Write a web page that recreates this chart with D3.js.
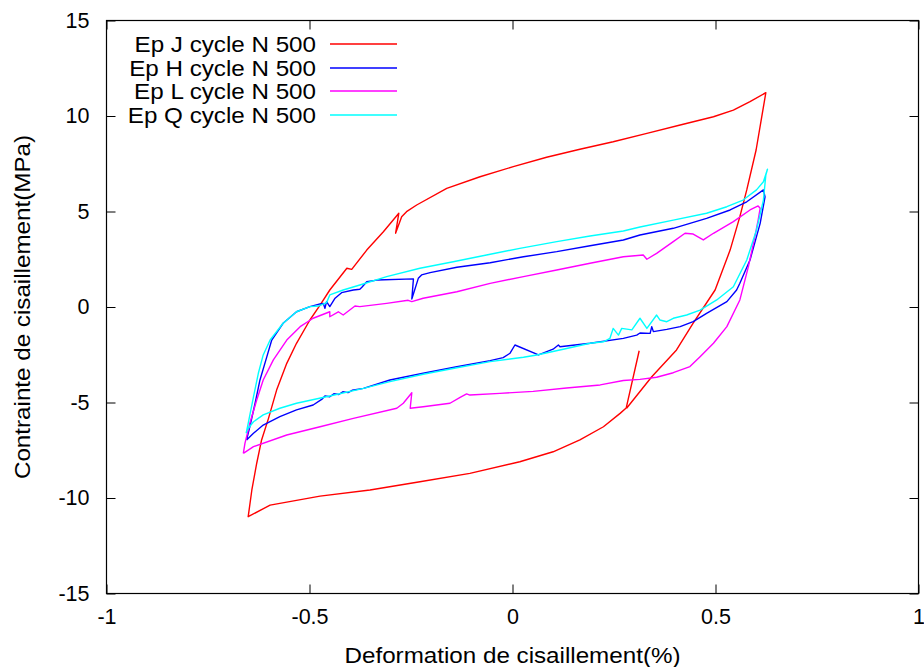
<!DOCTYPE html>
<html><head><meta charset="utf-8">
<script src="https://cdn.jsdelivr.net/npm/d3@7"></script>
<style>html,body{margin:0;padding:0;background:#fff;}svg{display:block;font-family:"Liberation Sans",Arial,Helvetica,sans-serif;}</style>
</head><body><svg id="c" width="924" height="667"></svg>
<script>
const seriesNames = ["Ep J cycle N 500","Ep H cycle N 500","Ep L cycle N 500","Ep Q cycle N 500"];
const seriesColors = ["#ff0000","#0000ff","#ff00ff","#00ffff"];
const xTicks = [-1,-0.5,0,0.5,1];
const xTickLabels = ["-1","-0.5","0","0.5","1"];
const yTicks = [-15,-10,-5,0,5,10,15];
const yTickLabels = ["-15","-10","-5","0","5","10","15"];
const xTitle = "Deformation de cisaillement(%)";
const yTitle = "Contrainte de cisaillement(MPa)";

// Ep J
const jStrain = [0.312,0.280,0.265,0.224,0.166,0.100,0.018,-0.105,-0.228,-0.351,-0.474,-0.597,-0.651,-0.642,-0.630,-0.618,-0.601,-0.581,-0.556,-0.532,-0.499,-0.474,-0.450,-0.408,-0.396,-0.359,-0.318,-0.280,-0.288,-0.273,-0.261,-0.236,-0.162,-0.080,0.002,0.084,0.166,0.248,0.331,0.413,0.495,0.544,0.585,0.624,0.600,0.577,0.560,0.536,0.499,0.445,0.404,0.343,0.281];
const jStress = [-2.29,-5.29,-5.57,-6.27,-6.96,-7.58,-8.10,-8.71,-9.15,-9.58,-9.90,-10.37,-10.98,-9.58,-8.18,-6.96,-5.83,-4.35,-2.95,-1.90,-0.68,0.10,0.89,2.03,1.97,2.98,3.94,4.91,3.86,4.73,4.99,5.34,6.21,6.82,7.35,7.84,8.26,8.65,9.09,9.53,9.96,10.31,10.75,11.22,8.22,6.13,4.73,2.98,0.89,-0.85,-2.25,-3.65,-5.30];

// Ep H
const hStrain = [-0.655,-0.647,-0.634,-0.622,-0.605,-0.593,-0.565,-0.532,-0.499,-0.474,-0.466,-0.462,-0.458,-0.450,-0.437,-0.421,-0.392,-0.376,-0.371,-0.359,-0.334,-0.244,-0.248,-0.232,-0.224,-0.203,-0.137,-0.055,0.027,0.109,0.191,0.273,0.314,0.396,0.478,0.536,0.577,0.618,0.622,0.610,0.585,0.560,0.552,0.528,0.478,0.445,0.413,0.380,0.347,0.343,0.339,0.314,0.306,0.273,0.191,0.117,0.113,0.100,0.064,0.006,-0.006,-0.023,-0.055,-0.137,-0.220,-0.302,-0.367,-0.395,-0.405,-0.418,-0.428,-0.440,-0.450,-0.462,-0.470,-0.491,-0.532,-0.573,-0.614,-0.638,-0.655];
const hStress = [-6.96,-6.27,-5.04,-3.82,-2.60,-1.73,-0.85,-0.25,0.02,0.16,0.19,-0.07,0.28,0.02,0.46,0.75,0.89,0.93,1.03,1.32,1.41,1.47,0.42,1.50,1.68,1.80,2.08,2.32,2.63,2.90,3.21,3.51,3.77,4.12,4.64,5.08,5.51,6.13,5.77,4.38,2.46,1.24,0.89,0.28,-0.33,-0.77,-1.03,-1.17,-1.29,-1.03,-1.38,-1.36,-1.47,-1.64,-1.90,-2.08,-1.99,-2.21,-2.51,-1.99,-2.42,-2.65,-2.81,-3.13,-3.47,-3.82,-4.26,-4.36,-4.48,-4.44,-4.58,-4.54,-4.70,-4.66,-4.84,-5.13,-5.39,-5.74,-6.18,-6.61,-6.96];

// Ep L
const lStrain = [-0.663,-0.659,-0.647,-0.630,-0.614,-0.589,-0.556,-0.523,-0.491,-0.450,-0.450,-0.429,-0.417,-0.388,-0.376,-0.310,-0.257,-0.248,-0.220,-0.137,-0.055,0.027,0.109,0.191,0.273,0.322,0.331,0.355,0.396,0.425,0.445,0.470,0.495,0.544,0.585,0.605,0.610,0.605,0.597,0.581,0.560,0.528,0.495,0.462,0.437,0.396,0.355,0.314,0.273,0.216,0.133,0.051,-0.031,-0.105,-0.113,-0.129,-0.154,-0.220,-0.252,-0.248,-0.269,-0.285,-0.392,-0.474,-0.556,-0.638,-0.663];
const lStress = [-7.66,-7.14,-6.09,-4.87,-3.82,-2.77,-1.73,-1.03,-0.59,-0.25,-0.51,-0.25,-0.42,0.05,0.02,0.19,0.35,0.28,0.46,0.80,1.24,1.59,1.94,2.29,2.63,2.72,2.50,2.81,3.42,3.86,3.82,3.51,3.86,4.47,5.08,5.29,5.17,4.55,3.68,2.11,0.37,-1.03,-1.90,-2.60,-3.12,-3.44,-3.68,-3.79,-3.85,-4.08,-4.24,-4.42,-4.52,-4.61,-4.55,-4.73,-5.04,-5.22,-5.30,-4.49,-5.04,-5.30,-5.83,-6.27,-6.70,-7.31,-7.66];

// Ep Q
const qStrain = [-0.656,-0.651,-0.638,-0.626,-0.614,-0.597,-0.565,-0.532,-0.499,-0.478,-0.458,-0.450,-0.417,-0.376,-0.310,-0.228,-0.146,-0.064,0.018,0.109,0.191,0.273,0.314,0.396,0.478,0.528,0.568,0.601,0.618,0.628,0.624,0.618,0.601,0.577,0.544,0.503,0.462,0.429,0.396,0.380,0.363,0.355,0.331,0.314,0.294,0.269,0.261,0.248,0.240,0.224,0.191,0.125,0.060,0.027,-0.055,-0.137,-0.220,-0.302,-0.367,-0.450,-0.532,-0.573,-0.614,-0.638,-0.654,-0.656];
const qStress = [-6.61,-6.09,-4.70,-3.47,-2.51,-1.73,-0.85,-0.25,0.02,0.05,0.23,0.63,0.89,1.15,1.59,2.03,2.37,2.72,3.07,3.42,3.72,3.98,4.19,4.55,4.91,5.25,5.60,6.13,6.56,7.21,6.91,5.60,4.03,2.46,1.06,0.37,-0.16,-0.42,-0.59,-0.77,-0.68,-0.42,-1.12,-0.59,-1.20,-1.12,-1.47,-1.12,-1.64,-1.82,-1.90,-2.21,-2.51,-2.63,-2.86,-3.18,-3.52,-3.91,-4.26,-4.66,-5.04,-5.30,-5.65,-6.01,-6.44,-6.61];

const strains = [jStrain,hStrain,lStrain,qStrain];
const stresses = [jStress,hStress,lStress,qStress];

const svg = d3.select("#c");
const x = d3.scaleLinear().domain([-1,1]).range([106.5,918.5]);
const y = d3.scaleLinear().domain([-15,15]).range([593.5,20.5]);
const fsTick = "21.5px";
const fsText = "22px";
const stretch = 1.1;

// axes with inward ticks (gnuplot style, mirrored)
const gx = svg.append("g").attr("transform",`translate(0,${y(-15)})`)
  .call(d3.axisBottom(x).tickValues(xTicks).tickFormat((d,i)=>xTickLabels[i]).tickSizeInner(-9).tickSizeOuter(0).tickPadding(15));
const gxt = svg.append("g").attr("transform",`translate(0,${y(15)})`)
  .call(d3.axisTop(x).tickValues(xTicks).tickFormat("").tickSizeInner(-9).tickSizeOuter(0));
const gy = svg.append("g").attr("transform",`translate(${x(-1)},0)`)
  .call(d3.axisLeft(y).tickValues(yTicks).tickFormat((d,i)=>yTickLabels[i]).tickSizeInner(-9).tickSizeOuter(0).tickPadding(17));
const gyr = svg.append("g").attr("transform",`translate(${x(1)},0)`)
  .call(d3.axisRight(y).tickValues(yTicks).tickFormat("").tickSizeInner(-9).tickSizeOuter(0));
[gx,gxt,gy,gyr].forEach(g=>{
  g.select(".domain").remove();
  g.selectAll("line").attr("stroke","#000").attr("stroke-width",1);
  g.selectAll("text").attr("fill","#000").style("font-size",fsTick).style("font-family","Liberation Sans, Arial, sans-serif");
});

// series
const line = d3.line().x(d=>x(d[0])).y(d=>y(d[1]));
strains.forEach((s,k)=>{
  const pts = s.map((v,i)=>[v,stresses[k][i]]);
  svg.append("path").datum(pts).attr("d",line)
    .attr("fill","none").attr("stroke",seriesColors[k]).attr("stroke-width",1.4).attr("stroke-linejoin","round");
});

// frame
svg.append("rect").attr("x",x(-1)).attr("y",y(15)).attr("width",x(1)-x(-1)).attr("height",y(-15)-y(15))
  .attr("fill","none").attr("stroke","#000").attr("stroke-width",1.2);

// legend
const legY = [44,68,91,115];
seriesNames.forEach((n,i)=>{
  svg.append("text").attr("transform",`translate(316,${legY[i]}) scale(${stretch},1)`).attr("dy","0.35em").attr("text-anchor","end")
    .style("font-size",fsText).text(n);
  svg.append("line").attr("x1",330).attr("x2",397).attr("y1",legY[i]).attr("y2",legY[i])
    .attr("stroke",seriesColors[i]).attr("stroke-width",1.4);
});

// titles
svg.append("text").attr("transform",`translate(${(x(-1)+x(1))/2},655) scale(${stretch},1)`).attr("dy","0.35em").attr("text-anchor","middle")
  .style("font-size",fsText).text(xTitle);
svg.append("text").attr("transform",`translate(22,${(y(-15)+y(15))/2}) rotate(-90) scale(${stretch},1)`).attr("dy","0.35em").attr("text-anchor","middle")
  .style("font-size",fsText).text(yTitle);
</script></body></html>
